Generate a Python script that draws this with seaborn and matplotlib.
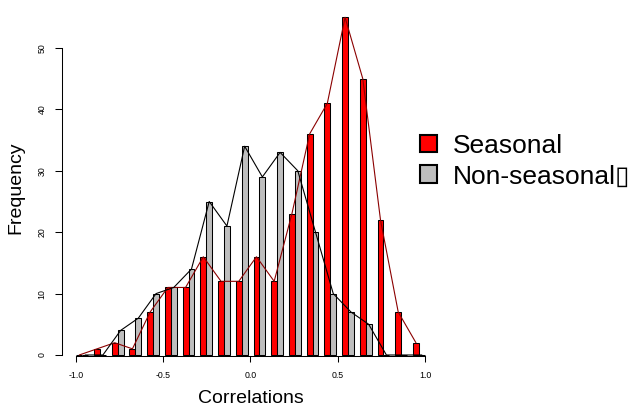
import numpy as np
import pandas as pd
import matplotlib
matplotlib.use("Agg")
import matplotlib.pyplot as plt
from matplotlib.patches import Patch
import seaborn as sns

# ---- data ----
bins = ["-1.0", "-0.9", "-0.8", "-0.7", "-0.6", "-0.5", "-0.4", "-0.3", "-0.2", "-0.1",
        "0.0", "0.1", "0.2", "0.3", "0.4", "0.5", "0.6", "0.7", "0.8", "0.9"]
seasonal = [0, 1, 2, 1, 7, 11, 11, 16, 12, 12, 16, 12, 23, 36, 41, 55, 45, 22, 7, 2]
non_seasonal = [0, 0, 4, 6, 10, 11, 14, 25, 21, 34, 29, 33, 30, 20, 10, 7, 5, 0, 0, 0]
series_names = ["Seasonal", "Non-seasonal"]
legend_labels = ["Seasonal", "Non-seasonal\u25AF"]
x_tick_labels = ["-1.0", "-0.5", "0.0", "0.5", "1.0"]
y_ticks = [0, 10, 20, 30, 40, 50]

df = pd.DataFrame({
    "bin": bins * 2,
    "count": seasonal + non_seasonal,
    "series": [series_names[0]] * len(bins) + [series_names[1]] * len(bins),
})

sns.set_theme(style="white")
plt.rcParams["font.family"] = ["Liberation Sans", "DejaVu Sans"]
plt.rcParams["axes.unicode_minus"] = False
for k in ["text.color", "axes.labelcolor", "xtick.color", "ytick.color"]:
    plt.rcParams[k] = "black"

W, H = 628, 408
fig = plt.figure(figsize=(W / 100, H / 100), dpi=100)
# axes in pixel terms: left 62, right 439, top 10, bottom 356
ax = fig.add_axes([62 / W, (H - 356) / H, (439 - 62) / W, (356 - 10) / H])

bar_colors = ["#FF0000", "#BEBEBE"]
line_colors = ["#8B0000", "#000000"]

sns.barplot(data=df, x="bin", y="count", hue="series", order=bins,
            hue_order=series_names, palette=bar_colors, width=2 / 3, gap=0,
            saturation=1, edgecolor="black", linewidth=0.75, errorbar=None,
            legend=False, ax=ax)

for cont, vals, col in zip(ax.containers, [seasonal, non_seasonal], line_colors):
    xs = [r.get_x() + r.get_width() / 2 for r in cont]
    sns.lineplot(x=xs, y=vals, color=col, linewidth=0.8, sort=False,
                 legend=False, ax=ax)

# scales
ax.set_xlim(-1.141, 20.135)
ax.set_ylim(-0.163, 56.19)
axis_lo, axis_hi = -0.352, 19.34
tick_pos = np.linspace(axis_lo, axis_hi, len(x_tick_labels))
ax.set_xticks(tick_pos, x_tick_labels)
ax.set_yticks(y_ticks, [str(v) for v in y_ticks])

for s in ["top", "right"]:
    ax.spines[s].set_visible(False)
for s in ["left", "bottom"]:
    ax.spines[s].set_linewidth(0.75)
    ax.spines[s].set_color("black")
ax.spines["left"].set_bounds(0, 50)
ax.spines["bottom"].set_bounds(tick_pos[0], tick_pos[-1])

ax.tick_params(axis="y", left=True, length=5, width=0.75, color="black",
               labelsize=6.3, pad=6, labelrotation=90, labelcolor="black")
for t in ax.get_yticklabels():
    t.set_va("center")
ax.tick_params(axis="x", bottom=True, length=4.5, width=0.75, color="black",
               labelsize=6.3, pad=6, labelcolor="black")
ax.grid(False)

ax.set_xlabel("Correlations", fontsize=14, color="black")
ax.set_ylabel("Frequency", fontsize=14, color="black")
ax.xaxis.set_label_coords(0.5, -0.097)
ax.yaxis.set_label_coords(-0.1, 0.4855)

handles = [Patch(facecolor=cont[0].get_facecolor(), edgecolor="black",
                 linewidth=1.5) for cont in ax.containers]
ax.legend(handles, legend_labels, loc="upper left",
          bbox_to_anchor=(420 / W, 1 - 134 / H), bbox_transform=fig.transFigure,
          frameon=False, fontsize=19, borderpad=0, borderaxespad=0,
          handlelength=0.63, handleheight=0.63, handletextpad=0.6,
          labelspacing=0.24)

fig.savefig("out.png", dpi=100)
